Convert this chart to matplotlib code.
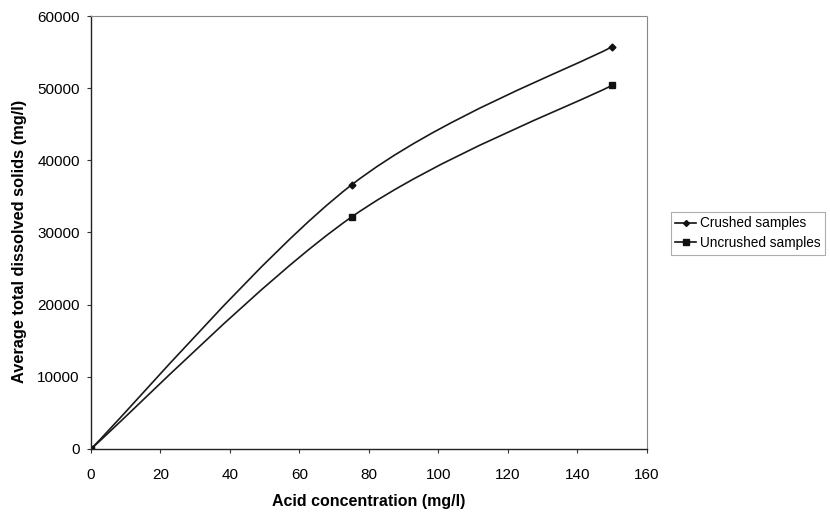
import numpy as np
import matplotlib
matplotlib.use("Agg")
import matplotlib.pyplot as plt
from matplotlib.path import Path
from matplotlib.patches import PathPatch
from matplotlib.lines import Line2D

plt.rcParams['font.family'] = ['Liberation Sans', 'DejaVu Sans']

acid = [0, 75, 150]
crushed = [0, 36600, 55750]
uncrushed = [0, 32150, 50400]
labels = ["Crushed samples", "Uncrushed samples"]
xticks = [0, 20, 40, 60, 80, 100, 120, 140, 160]
yticks = [0, 10000, 20000, 30000, 40000, 50000, 60000]


def smooth_path(x, y, t=1/6):
    # Excel-style smoothed line: catmull-rom turned into bezier segments
    x = np.asarray(x, float)
    y = np.asarray(y, float)
    n = len(x)
    verts = [(x[0], y[0])]
    codes = [Path.MOVETO]
    for i in range(n - 1):
        p0 = np.array([x[max(i - 1, 0)], y[max(i - 1, 0)]])
        p1 = np.array([x[i], y[i]])
        p2 = np.array([x[i + 1], y[i + 1]])
        p3 = np.array([x[min(i + 2, n - 1)], y[min(i + 2, n - 1)]])
        c1 = p1 + (p2 - p0) * t
        c2 = p2 - (p3 - p1) * t
        verts += [tuple(c1), tuple(c2), tuple(p2)]
        codes += [Path.CURVE4] * 3
    return Path(verts, codes)


fig = plt.figure(figsize=(8.3, 5.15), dpi=100)
ax = fig.add_axes([0.1096, 0.1282, 0.6699, 0.8407])

for yv, mk, ms in [(crushed, "D", 3.5), (uncrushed, "s", 4.5)]:
    ax.add_patch(PathPatch(smooth_path(acid, yv), fill=False, lw=1.2, ec="#1a1a1a"))
    ax.plot(acid, yv, ls="none", marker=mk, ms=ms, color="#111111")

ax.set_xlim(0, 160)
ax.set_ylim(0, 60000)
ax.set_xticks(xticks)
ax.set_yticks(yticks)
ax.tick_params(labelsize=11, length=3, width=0.8, color="#333333")
ax.tick_params(axis="x", pad=11)
ax.tick_params(axis="y", pad=5)
ax.set_xlabel("Acid concentration (mg/l)", fontsize=11.5, fontweight="bold")
ax.xaxis.set_label_coords(0.5, -0.105)
ax.set_ylabel("Average total dissolved solids (mg/l)", fontsize=11.8, fontweight="bold")
ax.yaxis.set_label_coords(-0.115, 0.48)

for s in ["top", "right"]:
    ax.spines[s].set_linestyle((0, (2, 1)))
    ax.spines[s].set_color("#888888")
    ax.spines[s].set_linewidth(0.8)
for s in ["left", "bottom"]:
    ax.spines[s].set_color("#222222")
    ax.spines[s].set_linewidth(1.0)

handles = [Line2D([], [], color="#111111", lw=1.2, marker="D", ms=3),
           Line2D([], [], color="#111111", lw=1.2, marker="s", ms=4)]
leg = fig.legend(handles, labels, loc="upper left", bbox_to_anchor=(0.808, 0.589),
                 fontsize=9.8, frameon=True, fancybox=False, handlelength=1.5,
                 handletextpad=0.3, borderpad=0.35, labelspacing=0.4, borderaxespad=0)
leg.get_frame().set_edgecolor("#999999")
leg.get_frame().set_linewidth(0.8)

fig.savefig("out.png", dpi=100)
